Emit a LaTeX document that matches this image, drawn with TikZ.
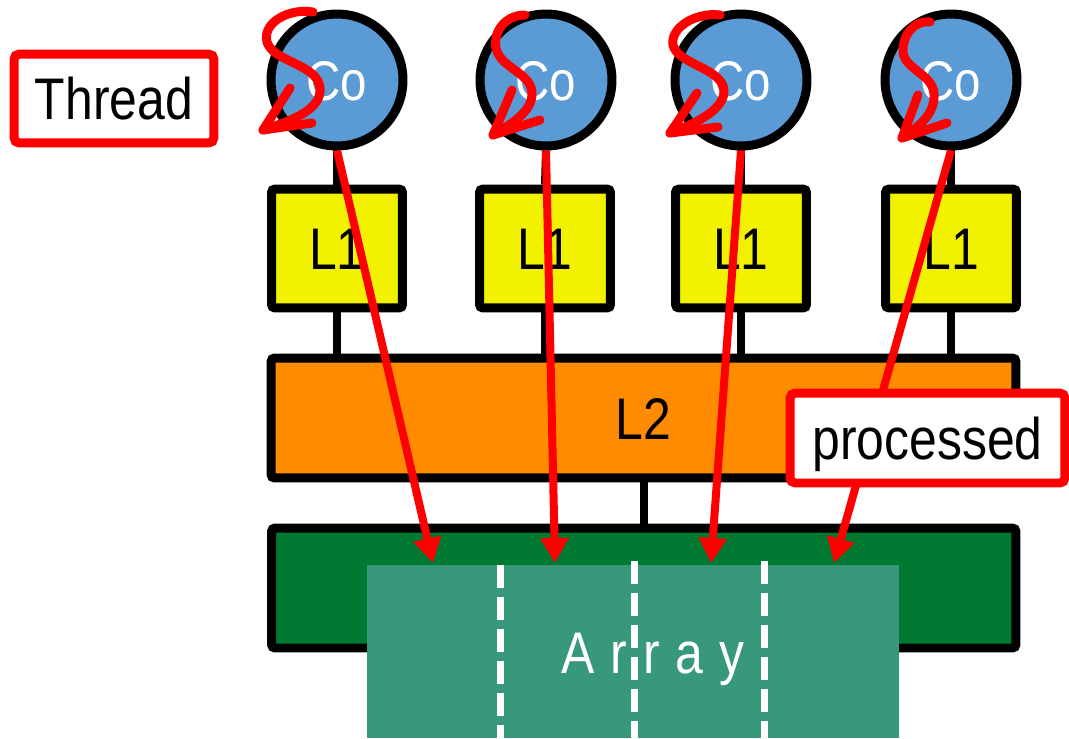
\documentclass[tikz,border=0pt]{standalone}
\usepackage{fontspec}
\setmainfont{Liberation Sans}[FakeStretch=0.85]
\newfontfamily\arrayfont{Liberation Sans}[FakeStretch=0.85,LetterSpace=27]
\usetikzlibrary{arrows.meta}
\definecolor{coreblue}{RGB}{91,155,213}
\definecolor{lonefill}{RGB}{242,242,0}
\definecolor{ltwofill}{RGB}{255,140,0}
\definecolor{memgreen}{RGB}{0,122,51}
\definecolor{arrteal}{RGB}{55,152,123}
\definecolor{hot}{RGB}{255,0,0}
\begin{document}
\begin{tikzpicture}[x=0.02cm,y=-0.02cm,
  lbl/.style={font=\fontsize{33.4pt}{40pt}\selectfont, text height=23.9pt, text depth=0pt, inner sep=0pt},
  core/.style={lbl, circle, draw=black, line width=0.18cm, fill=coreblue, minimum size=2.64cm, text=white, font=\fontsize{31.8pt}{38pt}\selectfont, text height=22.8pt},
  cache/.style={lbl, rectangle, draw=black, line width=0.18cm, rounded corners=2pt},
  lone/.style={cache, fill=lonefill, minimum width=2.62cm, minimum height=2.38cm},
  wire/.style={draw=black, line width=0.16cm},
  flow/.style={draw=hot, line width=0.16cm, -{Triangle[length=0.5cm,width=0.54cm]}},
  squig/.style={draw=hot, line width=0.18cm, line cap=round, line join=round},
  callout/.style={lbl, rectangle, draw=hot, fill=white, line width=0.18cm, rounded corners=3pt},
  divider/.style={draw=white, line width=0.14cm, dash pattern=on 0.46cm off 0.18cm}
]
\useasboundingbox (0,0) rectangle (1069,738);

% cores
\node[core] (c1) at (337,80) {Co};
\node[core] (c2) at (546,80) {Co};
\node[core] (c3) at (741,80) {Co};
\node[core] (c4) at (951,80) {Co};

% L1 caches
\node[lone] (a1) at (337,248.5) {L1};
\node[lone] (a2) at (545,248.5) {L1};
\node[lone] (a3) at (741,248.5) {L1};
\node[lone] (a4) at (951,248.5) {L1};

% L2 and memory
\node[cache, fill=ltwofill, minimum width=14.9cm, minimum height=2.4cm] (l2) at (643.5,418) {L2};
\node[cache, fill=memgreen, minimum width=14.89cm, minimum height=2.4cm] (mem) at (643.75,588) {};
\node[fill=arrteal, inner sep=0pt, minimum width=10.64cm, minimum height=3.46cm] (arr) at (633,651.5) {};

% wires
\foreach \i in {1,2,3,4}{
  \draw[wire] (c\i.south) -- (a\i.north);
  \draw[wire] (a\i.south) -- (a\i.south |- l2.north);
}
\draw[wire] (l2.south) -- (l2.south |- mem.north);

% dividers on the array
\draw[divider] (500,565) -- (500,738);
\draw[divider] (634,561) -- (634,738);
\draw[divider] (764,561) -- (764,738);
\node[lbl, text=white, font=\arrayfont\fontsize{33.4pt}{40pt}\selectfont] (arrtxt) at (653,652) {Array};

% thread squiggles
\draw[squig] (313,12) .. controls (290,8) and (262,22) .. (267,42) .. controls (273,62) and (318,64) .. (320,88) .. controls (322,108) and (295,120) .. (263,130);
\draw[squig] (290,88) -- (263,130) -- (312,123);
\draw[squig] (525,15) .. controls (505,15) and (493,32) .. (496,48) .. controls (500,68) and (530,72) .. (532,92) .. controls (533,110) and (515,122) .. (493,135);
\draw[squig] (512,90) -- (493,135) -- (540,120);
\draw[squig] (720,15) .. controls (695,12) and (670,28) .. (673,45) .. controls (677,64) and (722,68) .. (724,90) .. controls (725,108) and (700,122) .. (670,133);
\draw[squig] (697,93) -- (670,133) -- (718,127);
\draw[squig] (930,22) .. controls (912,20) and (902,38) .. (903,52) .. controls (905,70) and (933,74) .. (934,94) .. controls (935,112) and (922,125) .. (902,138);
\draw[squig] (918,95) -- (902,138) -- (947,123);

% access arrows
\coordinate (t1) at (433,563);
\coordinate (t2) at (555,563);
\coordinate (t3) at (711,563);
\coordinate (t4) at (834,563);
\foreach \i in {1,2,3,4}{
  \draw[flow] (c\i.south) -- (t\i);
}

% callouts
\node[callout, minimum width=4.0cm, minimum height=1.78cm] (thr) at (114,98.5) {Thread};
\node[callout, minimum width=5.5cm, minimum height=1.8cm] (proc) at (927.5,438) {processed};
\end{tikzpicture}
\end{document}
